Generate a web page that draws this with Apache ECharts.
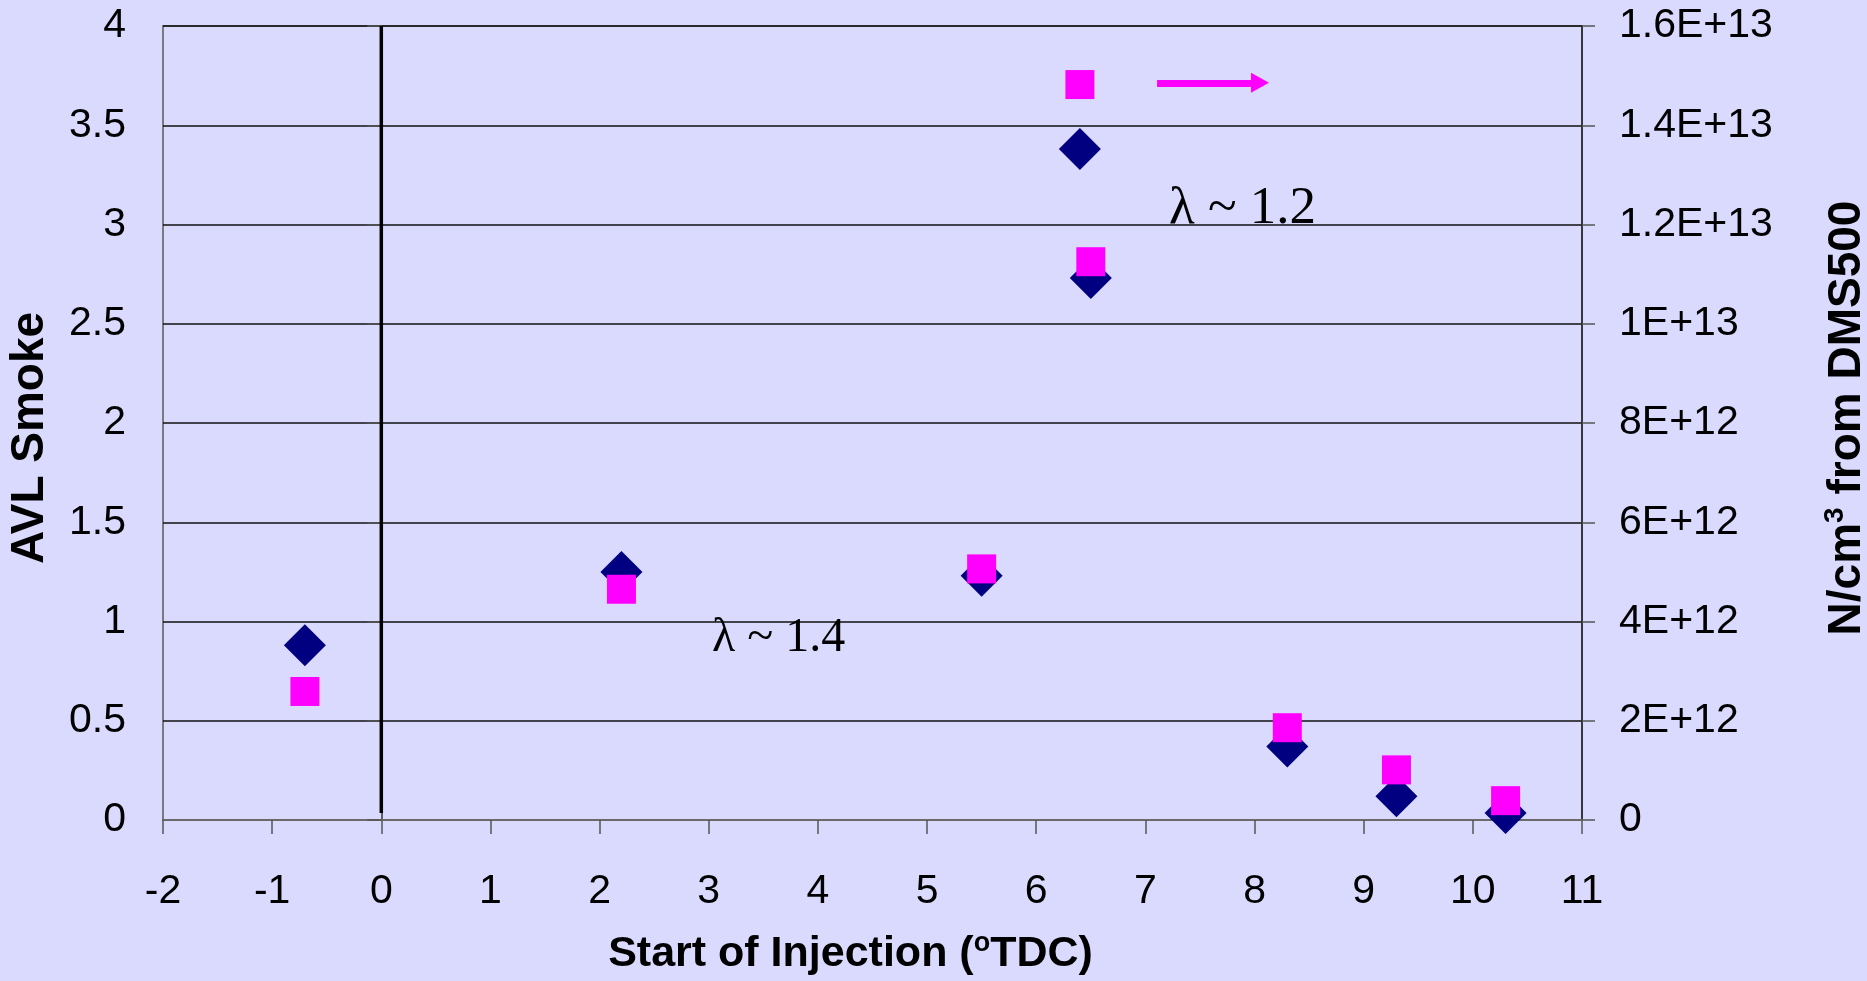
<!DOCTYPE html>
<html>
<head>
<meta charset="utf-8">
<script src="https://cdn.jsdelivr.net/npm/echarts@6/dist/echarts.min.js"></script>
<style>
html,body{margin:0;padding:0;background:#DADAFF;}
#c{width:1867px;height:981px;}
</style>
</head>
<body>
<div id="c"></div>
<script>
// ---- data ----
const injection = [-0.7, 2.2, 5.5, 6.4, 6.5, 8.3, 9.3, 10.3];
const avlSmoke = [0.88, 1.25, 1.23, 3.38, 2.73, 0.37, 0.12, 0.035];
const dms500 = [2.59e12, 4.65e12, 5.06e12, 1.482e13, 1.125e13, 1.86e12, 1.01e12, 0.39e12];
const zeroLine = [[0, 0.035], [0, 4]];
const xTickLabels = ['-2','-1','0','1','2','3','4','5','6','7','8','9','10','11'];
const leftTickLabels = ['0','0.5','1','1.5','2','2.5','3','3.5','4'];
const rightTickLabels = ['0','2E+12','4E+12','6E+12','8E+12','1E+13','1.2E+13','1.4E+13','1.6E+13'];
const annotations = [
  {text: 'λ ~ 1.4', x: 3.64, y: 0.915, size: 48},
  {text: 'λ ~ 1.2', x: 7.89, y: 3.08, size: 53}
];
const arrowFrom = [7.107, 3.714];
const arrowTo = [8.05, 3.714];

const FONT = '"Liberation Sans", Arial, sans-serif';
const chart = echarts.init(document.getElementById('c'));
const axisLabelStyle = {fontFamily: FONT, fontSize: 41, color: '#000'};

chart.setOption({
  backgroundColor: '#DADAFF',
  animation: false,
  grid: {left: 163, right: 285, top: 26, bottom: 161, containLabel: false, outerBoundsMode: 'none',
    show: true, borderColor: '#7a7a7a', borderWidth: 2, backgroundColor: 'transparent'},
  xAxis: {
    type: 'value', min: -2, max: 11, interval: 1,
    name: 'Start of Injection ({sup|o}TDC)',
    nameLocation: 'middle', nameGap: 110,
    nameTextStyle: {fontFamily: FONT, fontWeight: 'bold', fontSize: 43, color: '#000', padding: [0, 44, 0, 0],
      rich: {sup: {fontFamily: FONT, fontWeight: 'bold', fontSize: 27, color: '#000', verticalAlign: 'top', padding: [0, 0, 22, 0]}}},
    axisLine: {show: true, lineStyle: {color: '#6a6a6a', width: 2}},
    axisTick: {show: true, length: 14, lineStyle: {color: '#555', width: 1.5}},
    axisLabel: Object.assign({margin: 51, formatter: (v, i) => xTickLabels[i]}, axisLabelStyle),
    splitLine: {show: false}
  },
  yAxis: [{
    type: 'value', min: 0, max: 4, interval: 0.5, position: 'left',
    name: 'AVL Smoke', nameLocation: 'middle', nameGap: 110, nameRotate: 90,
    nameTextStyle: {fontFamily: FONT, fontWeight: 'bold', fontSize: 46, color: '#000', padding: [0, 30, 0, 0]},
    axisLine: {show: true, lineStyle: {color: '#333', width: 1.5}},
    axisTick: {show: true, length: 14, lineStyle: {color: '#555', width: 1.5}},
    axisLabel: Object.assign({margin: 37, formatter: (v, i) => leftTickLabels[i]}, axisLabelStyle),
    splitLine: {show: true, lineStyle: {color: '#111', width: 1.5}}
  }, {
    type: 'value', min: 0, max: 1.6e13, interval: 2e12, position: 'right',
    name: 'N/cm{sup|3} from DMS500', nameLocation: 'middle', nameGap: 239, nameRotate: 90,
    nameTextStyle: {fontFamily: FONT, fontWeight: 'bold', fontSize: 46, color: '#000', padding: [0, 0, 0, 10],
      rich: {sup: {fontFamily: FONT, fontWeight: 'bold', fontSize: 28, color: '#000', verticalAlign: 'top', padding: [0, 0, 24, 0]}}},
    axisLine: {show: true, lineStyle: {color: '#222', width: 1.5}},
    axisTick: {show: true, length: 13, lineStyle: {color: '#555', width: 1.5}},
    axisLabel: Object.assign({margin: 37, formatter: (v, i) => rightTickLabels[i]}, axisLabelStyle),
    splitLine: {show: false}
  }],
  series: [
    {
      type: 'line', data: zeroLine, yAxisIndex: 0, symbol: 'none',
      lineStyle: {color: '#000', width: 3.5}, silent: true, z: 1
    },
    {
      name: 'AVL Smoke', type: 'scatter', yAxisIndex: 0,
      data: injection.map((x, i) => [x, avlSmoke[i]]),
      symbol: 'diamond', symbolSize: 42,
      itemStyle: {color: '#000080', opacity: 1}, z: 3
    },
    {
      name: 'DMS500', type: 'scatter', yAxisIndex: 1,
      data: injection.map((x, i) => [x, dms500[i]]),
      symbol: 'rect', symbolSize: 29,
      itemStyle: {color: '#FF00FF', opacity: 1}, z: 4
    },
    {
      type: 'scatter', yAxisIndex: 0, symbolSize: 0, silent: true, z: 5,
      itemStyle: {opacity: 1},
      data: annotations.map(a => ({
        value: [a.x, a.y],
        label: {show: true, position: 'inside', formatter: a.text,
          fontFamily: '"Liberation Serif", "Times New Roman", serif', fontSize: a.size, color: '#000'}
      })),
      markLine: {
        silent: true, symbol: ['none', 'triangle'], symbolSize: [20, 18],
        lineStyle: {color: '#FF00FF', width: 7, type: 'solid', opacity: 1},
        label: {show: false},
        data: [[{coord: arrowFrom}, {coord: arrowTo}]]
      }
    }
  ]
});
</script>
</body>
</html>
